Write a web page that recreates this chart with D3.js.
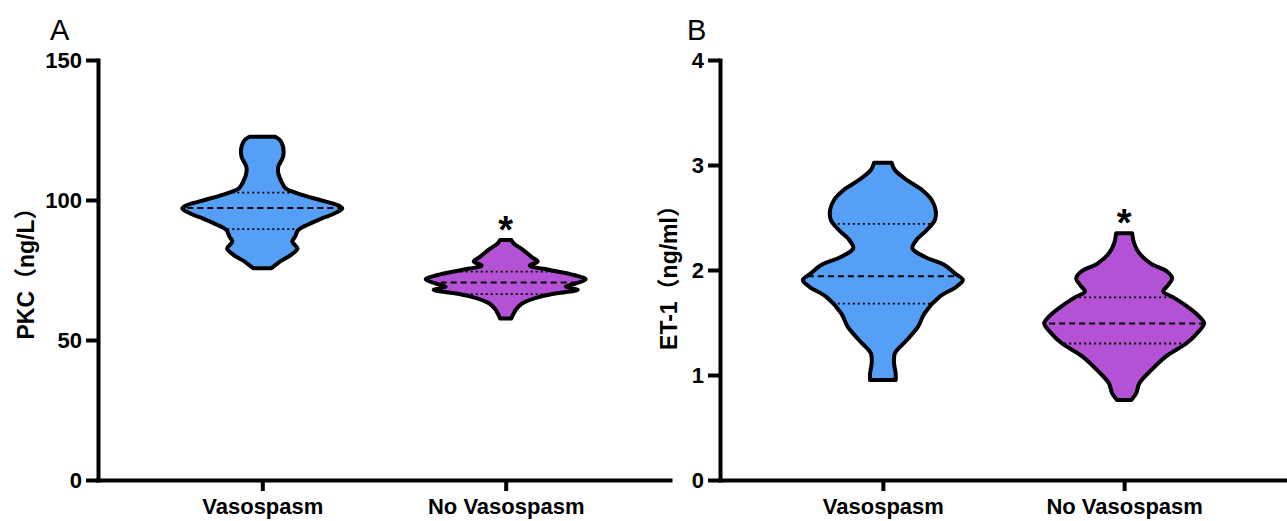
<!DOCTYPE html>
<html>
<head>
<meta charset="utf-8">
<script src="https://cdn.jsdelivr.net/npm/d3@7"></script>
<style>
  body { margin: 0; background: #fff; }
  svg { display: block; }
  text { font-family: "Liberation Sans", Arial, "Noto Sans CJK SC", sans-serif; }
</style>
</head>
<body>
<div id="chart"></div>
<script>
const categories = ["Vasospasm", "No Vasospasm"];
const fillColors = ["#55a0f6", "#b452d6"];

// panel A: PKC (ng/L)
const pkcTicks = [0, 50, 100, 150];
// violin outline: [value, relative half-width]
const pkcVasospasm = [
  [122.6, 0.16], [121.4, 0.22], [119.0, 0.26], [115.5, 0.26], [111.9, 0.2], [109.5, 0.2],
  [106.5, 0.24], [104.2, 0.29], [102.4, 0.44], [100.0, 0.72], [98.2, 0.94], [97.0, 1.0],
  [95.2, 0.9], [93.5, 0.75], [91.1, 0.56], [89.3, 0.45], [86.9, 0.41], [85.1, 0.375],
  [82.7, 0.44], [80.4, 0.36], [78.0, 0.22], [76.2, 0.14], [75.6, 0.11]
];
const pkcNoVasospasm = [
  [85.7, 0.07], [84.5, 0.1], [82.1, 0.22], [79.5, 0.33], [78.0, 0.4], [76.6, 0.3],
  [75.0, 0.55], [73.2, 0.85], [71.7, 1.0], [70.2, 0.88], [69.0, 0.75], [67.9, 0.9],
  [66.5, 0.6], [65.2, 0.4], [63.1, 0.21], [61.0, 0.13], [59.5, 0.1], [57.7, 0.07]
];
const pkcMedian = [97.1, 70.5];
const pkcQ1 = [89.6, 66.4];
const pkcQ3 = [102.6, 74.4];

// panel B: ET-1 (ng/ml)
const et1Ticks = [0, 1, 2, 3, 4];
const et1Vasospasm = [
  [3.022, 0.11], [2.952, 0.15], [2.857, 0.3], [2.762, 0.49], [2.667, 0.61], [2.571, 0.66],
  [2.476, 0.65], [2.381, 0.55], [2.286, 0.42], [2.206, 0.37], [2.127, 0.52], [2.048, 0.77],
  [1.968, 0.9], [1.905, 1.0], [1.841, 0.92], [1.746, 0.71], [1.587, 0.52], [1.46, 0.44],
  [1.333, 0.3], [1.206, 0.15], [1.111, 0.14], [1.016, 0.16], [0.952, 0.16]
];
const et1NoVasospasm = [
  [2.349, 0.1], [2.254, 0.125], [2.159, 0.19], [2.063, 0.33], [1.984, 0.54], [1.921, 0.6],
  [1.857, 0.55], [1.794, 0.49], [1.746, 0.6], [1.651, 0.79], [1.556, 0.94], [1.492, 1.0],
  [1.397, 0.91], [1.302, 0.78], [1.175, 0.52], [1.048, 0.34], [0.921, 0.19], [0.825, 0.15],
  [0.762, 0.09]
];
const et1Median = [1.94, 1.49];
const et1Q1 = [1.68, 1.30];
const et1Q3 = [2.44, 1.74];

const significant = [false, true];

const width = 1287, height = 521;
const svg = d3.select("#chart").append("svg")
  .attr("width", width)
  .attr("height", height);

function drawPanel(opts) {
  const g = svg.append("g");
  const y = d3.scaleLinear().domain([opts.ticks[0], opts.ticks[opts.ticks.length - 1]]).range([480, 60]);
  const x = d3.scalePoint().domain(categories).range([opts.left, opts.right]).padding(0.675);
  const w = d3.scaleLinear().domain([0, 1]).range([0, 80]);

  // violins
  opts.profiles.forEach((prof, i) => {
    const cx = x(categories[i]);
    const area = d3.area()
      .y(d => y(d[0]))
      .x0(d => cx - w(d[1]))
      .x1(d => cx + w(d[1]))
      .curve(d3.curveCatmullRom);
    const clipId = `clip-${opts.id}-${i}`;
    g.append("clipPath").attr("id", clipId)
      .append("path").attr("d", area(prof));
    g.append("path")
      .attr("d", area(prof))
      .attr("fill", fillColors[i]);

    const lines = [
      {v: opts.median[i], dash: "6,4", sw: 2},
      {v: opts.q1[i], dash: "2,3", sw: 1.8},
      {v: opts.q3[i], dash: "2,3", sw: 1.8}
    ];
    g.append("g").attr("clip-path", `url(#${clipId})`)
      .selectAll("line").data(lines).join("line")
      .attr("x1", cx - w(1) - 5).attr("x2", cx + w(1) + 5)
      .attr("y1", d => y(d.v)).attr("y2", d => y(d.v))
      .attr("stroke", "#000")
      .attr("stroke-width", d => d.sw)
      .attr("stroke-dasharray", d => d.dash);

    g.append("path")
      .attr("d", area(prof))
      .attr("fill", "none")
      .attr("stroke", "#000")
      .attr("stroke-width", 4)
      .attr("stroke-linejoin", "round");

    if (significant[i]) {
      const top = d3.max(prof, d => d[0]);
      g.append("text")
        .attr("x", cx)
        .attr("y", y(top) + 3)
        .attr("text-anchor", "middle")
        .attr("font-size", 38)
        .attr("font-weight", "bold")
        .text("*");
    }
  });

  // y axis
  const yAxis = g.append("g")
    .attr("transform", `translate(${opts.left},0)`)
    .call(d3.axisLeft(y).tickValues(opts.ticks).tickFormat(d3.format("d"))
      .tickSize(12).tickSizeOuter(0).tickPadding(4));
  // x axis
  const xAxis = g.append("g")
    .attr("transform", "translate(0,480)")
    .call(d3.axisBottom(x).tickSize(11).tickSizeOuter(0).tickPadding(8));

  [yAxis, xAxis].forEach(ax => {
    ax.select(".domain").attr("stroke-width", 4).attr("stroke-linecap", "square");
    ax.selectAll(".tick line").attr("stroke-width", 4);
    ax.selectAll(".tick text")
      .attr("font-size", 22)
      .attr("font-weight", "bold")
      .attr("fill", "#000")
      .style("font-family", "'Liberation Sans', Arial, sans-serif");
  });
  xAxis.selectAll(".tick text").attr("dy", "0.7em");

  g.append("text")
    .attr("transform", `translate(${opts.titleX},${opts.titleY}) rotate(-90)`)
    .attr("text-anchor", "middle")
    .attr("dominant-baseline", "central")
    .attr("font-size", 23)
    .attr("font-weight", "bold")
    .text(opts.title);

  g.append("text")
    .attr("x", opts.letterX)
    .attr("y", 40)
    .attr("font-size", 29)
    .text(opts.letter);
}

drawPanel({
  id: "a", letter: "A", letterX: 50, left: 98, right: 670,
  ticks: pkcTicks, profiles: [pkcVasospasm, pkcNoVasospasm],
  median: pkcMedian, q1: pkcQ1, q3: pkcQ3,
  title: "PKC（ng/L）", titleX: 26, titleY: 268
});
drawPanel({
  id: "b", letter: "B", letterX: 687, left: 720, right: 1287,
  ticks: et1Ticks, profiles: [et1Vasospasm, et1NoVasospasm],
  median: et1Median, q1: et1Q1, q3: et1Q3,
  title: "ET-1（ng/ml）", titleX: 669, titleY: 272
});
</script>
</body>
</html>
